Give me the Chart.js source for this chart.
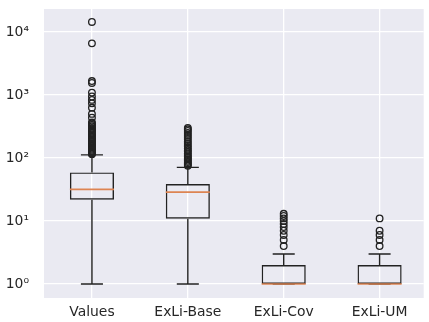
<!DOCTYPE html>
<html>
<head>
<meta charset="utf-8">
<script src="https://cdn.jsdelivr.net/npm/chart.js@4.4.0/dist/chart.umd.min.js"></script>
<style>
body { margin: 0; background: #fff; }
#wrap { width: 429px; height: 322px; position: relative; }
</style>
</head>
<body>
<div id="wrap"><canvas id="myChart"></canvas></div>
<script>
const categories = ["Values", "ExLi-Base", "ExLi-Cov", "ExLi-UM"];
const whiskerLow = [1, 1, 1, 1];
const q1 = [21.8, 10.9, 1, 1];
const medians = [31.8, 28.8, 1, 1];
const q3 = [59, 38.5, 2, 2];
const whiskerHigh = [112, 71, 3, 3];
const fliers = [
	[115, 118, 122, 126, 130, 135, 140, 146, 152, 158, 165, 172, 180, 188, 197, 206, 215, 225, 236, 248,
	 260, 272, 285, 300, 318, 335, 352, 365, 435, 500, 625, 735, 835, 945, 1090, 1550, 1660, 6580, 14400],
	[75, 78, 82, 86, 90, 95, 100, 105, 111, 118, 125, 132, 140, 150, 160, 172, 185, 200, 215, 232, 250, 268, 285, 300],
	[4, 5, 6, 7, 8, 9, 10, 11, 12, 13],
	[4, 5, 6, 7, 11],
];
const yTickValues = [1, 10, 100, 1000, 10000];
const yTickLabels = ["10⁰", "10¹", "10²", "10³", "10⁴"];

const lineColor = "#222";
const medianColor = "#dd8452";

const boxPlugin = {
	id: "boxParts",
	beforeDraw(chart) {
		const a = chart.chartArea;
		const c = chart.ctx;
		c.save();
		c.fillStyle = "#eaeaf2";
		c.fillRect(a.left, a.top, a.right - a.left, a.bottom - a.top);
		c.restore();
	},
	afterDatasetsDraw(chart) {
		const x = chart.scales.x;
		const y = chart.scales.y;
		const c = chart.ctx;
		const bars = chart.getDatasetMeta(0).data;
		c.save();
		for (let i = 0; i < categories.length; i++) {
			const cx = x.getPixelForValue(i + 1);
			const half = bars[i].width / 2;
			const cap = half / 2;
			c.lineWidth = 1.4;
			c.strokeStyle = lineColor;
			c.beginPath();
			// whiskers
			c.moveTo(cx, y.getPixelForValue(q1[i]));
			c.lineTo(cx, y.getPixelForValue(whiskerLow[i]));
			c.moveTo(cx, y.getPixelForValue(q3[i]));
			c.lineTo(cx, y.getPixelForValue(whiskerHigh[i]));
			// caps
			c.moveTo(cx - cap, y.getPixelForValue(whiskerLow[i]));
			c.lineTo(cx + cap, y.getPixelForValue(whiskerLow[i]));
			c.moveTo(cx - cap, y.getPixelForValue(whiskerHigh[i]));
			c.lineTo(cx + cap, y.getPixelForValue(whiskerHigh[i]));
			c.stroke();
			// median
			c.beginPath();
			c.lineWidth = 1.7;
			c.strokeStyle = medianColor;
			c.moveTo(cx - half, y.getPixelForValue(medians[i]));
			c.lineTo(cx + half, y.getPixelForValue(medians[i]));
			c.stroke();
		}
		c.restore();
	},
};

const noPad = (scale) => {
	scale.paddingTop = 0;
	scale.paddingBottom = 0;
	scale.paddingLeft = 0;
	scale.paddingRight = 0;
};

const flierPoints = [];
fliers.forEach((list, i) => list.forEach(v => flierPoints.push({ x: i + 1, y: v })));

const ctx = document.getElementById("myChart");
const myChart = new Chart(ctx, {
	type: "bar",
	data: {
		datasets: [
			{
				data: categories.map((name, i) => ({ x: i + 1, y: [q1[i], q3[i]] })),
				backgroundColor: "rgba(0,0,0,0)",
				borderColor: lineColor,
				borderWidth: 1.4,
				borderSkipped: false,
				barPercentage: 0.46,
				categoryPercentage: 1,
			},
			{
				type: "scatter",
				data: flierPoints,
				pointStyle: "circle",
				pointRadius: 3.3,
				pointBorderWidth: 1.3,
				pointBorderColor: lineColor,
				pointBackgroundColor: "rgba(0,0,0,0)",
			},
		],
	},
	plugins: [boxPlugin],
	options: {
		responsive: true,
		maintainAspectRatio: false,
		animation: false,
		events: [],
		layout: { padding: { top: 9, right: 0, left: 0, bottom: 0 } },
		plugins: {
			legend: false,
			tooltip: { enabled: false },
		},
		scales: {
			x: {
				type: "linear",
				min: 0.5,
				max: 4.46,
				offset: false,
				border: { display: false },
				grid: { color: "#ffffff", lineWidth: 1.3, drawTicks: false, offset: false },
				afterBuildTicks: (scale) => {
					scale.ticks = categories.map((n, i) => ({ value: i + 1 }));
				},
				afterFit: (scale) => { scale.height = 24; noPad(scale); },
				ticks: {
					padding: 6,
					color: "#262626",
					font: { family: "DejaVu Sans", size: 13.9 },
					callback: (v) => categories[v - 1],
				},
			},
			y: {
				type: "logarithmic",
				min: 0.6228,
				max: 23100,
				border: { display: false },
				grid: { color: "#ffffff", lineWidth: 1.3, drawTicks: false },
				afterBuildTicks: (scale) => {
					scale.ticks = yTickValues.map(v => ({ value: v }));
				},
				afterFit: (scale) => { scale.width = 44; noPad(scale); },
				ticks: {
					padding: 15,
					color: "#262626",
					font: { family: "DejaVu Sans", size: 13.9 },
					callback: (v, i) => yTickLabels[i],
				},
			},
		},
	},
});
</script>
</body>
</html>
